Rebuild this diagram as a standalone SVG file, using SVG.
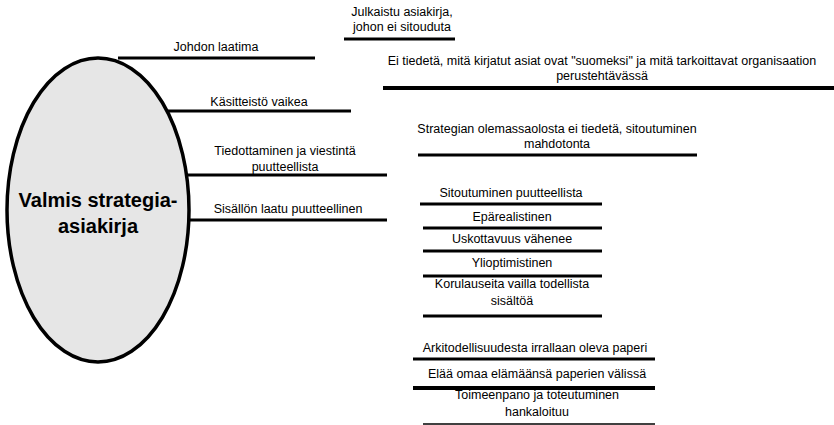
<svg xmlns="http://www.w3.org/2000/svg" width="834" height="425" viewBox="0 0 834 425">
  <style>
    .bg { fill: #ffffff; }
    .hub { fill: #e6e6e6; stroke: #000000; stroke-width: 3.5; }
    .hub-label { font-family: "Liberation Sans", Arial, sans-serif; font-size: 20px; font-weight: bold; fill: #000000; text-anchor: middle; }
    .label { font-family: "Liberation Sans", Arial, sans-serif; font-size: 12.5px; fill: #000000; text-anchor: middle; }
    .rule { stroke: #000000; stroke-width: 3; fill: none; }
    .rule-heavy { stroke: #000000; stroke-width: 4; fill: none; }
    .rule-thin { stroke: #000000; stroke-width: 1.5; fill: none; }
  </style>

  <rect class="bg" x="0" y="0" width="834" height="425"/>

  <!-- connectors: underline rules that branch off the central ellipse -->
  <g id="connectors">
    <line class="rule" x1="118" y1="58" x2="315" y2="58"/>
    <line class="rule" x1="168" y1="111" x2="351" y2="111"/>
    <line class="rule" x1="183" y1="175" x2="387" y2="175"/>
    <line class="rule" x1="189" y1="220" x2="387" y2="220"/>
  </g>

  <!-- central node -->
  <g id="hub">
    <ellipse class="hub" cx="98" cy="210" rx="91" ry="152"/>
    <text class="hub-label" x="98" y="207">Valmis strategia-</text>
    <text class="hub-label" x="98" y="233">asiakirja</text>
  </g>

  <!-- left branch labels -->
  <g id="johdon-laatima">
    <text class="label" x="216" y="51">Johdon laatima</text>
  </g>
  <g id="kasitteisto-vaikea">
    <text class="label" x="259" y="106">Käsitteistö vaikea</text>
  </g>
  <g id="tiedottaminen">
    <text class="label" x="285" y="155">Tiedottaminen ja viestintä</text>
    <text class="label" x="285" y="171">puutteellista</text>
  </g>
  <g id="sisallon-laatu">
    <text class="label" x="288" y="213">Sisällön laatu puutteellinen</text>
  </g>

  <!-- consequences, right side -->
  <g id="julkaistu">
    <text class="label" x="402" y="16">Julkaistu asiakirja,</text>
    <text class="label" x="402" y="31">johon ei sitouduta</text>
    <line class="rule" x1="344" y1="39" x2="455" y2="39"/>
  </g>
  <g id="ei-tiedeta">
    <text class="label" x="602" y="65">Ei tiedetä, mitä kirjatut asiat ovat "suomeksi" ja mitä tarkoittavat organisaation</text>
    <text class="label" x="602" y="80">perustehtävässä</text>
    <line class="rule-heavy" x1="383" y1="88" x2="834" y2="88"/>
  </g>
  <g id="strategian-olemassaolo">
    <text class="label" x="557" y="133">Strategian olemassaolosta ei tiedetä, sitoutuminen</text>
    <text class="label" x="557" y="148">mahdotonta</text>
    <line class="rule" x1="418" y1="155" x2="697" y2="155"/>
  </g>
  <g id="sitoutuminen">
    <text class="label" x="511" y="197">Sitoutuminen puutteellista</text>
    <line class="rule" x1="420" y1="204" x2="602" y2="204"/>
  </g>
  <g id="eparealistinen">
    <text class="label" x="512" y="221">Epärealistinen</text>
    <line class="rule" x1="423" y1="228" x2="602" y2="228"/>
  </g>
  <g id="uskottavuus">
    <text class="label" x="512" y="243">Uskottavuus vähenee</text>
    <line class="rule" x1="423" y1="251" x2="602" y2="251"/>
  </g>
  <g id="ylioptimistinen">
    <text class="label" x="512" y="267">Ylioptimistinen</text>
    <line class="rule" x1="423" y1="276" x2="602" y2="276"/>
  </g>
  <g id="korulauseita">
    <text class="label" x="512" y="288">Korulauseita vailla todellista</text>
    <text class="label" x="512" y="305">sisältöä</text>
    <line class="rule" x1="423" y1="316" x2="602" y2="316"/>
  </g>
  <g id="arkitodellisuus">
    <text class="label" x="535" y="352">Arkitodellisuudesta irrallaan oleva paperi</text>
    <line class="rule" x1="413" y1="359" x2="655" y2="359"/>
  </g>
  <g id="elaa-omaa">
    <text class="label" x="537" y="378">Elää omaa elämäänsä paperien välissä</text>
  </g>
  <g id="toimeenpano">
    <text class="label" x="537" y="399">Toimeenpano ja toteutuminen</text>
    <text class="label" x="537" y="416">hankaloituu</text>
    <line class="rule-thin" x1="423" y1="424" x2="655" y2="424"/>
  </g>
  <!-- heavy rule drawn over the top of the "Toimeenpano" label -->
  <line class="rule-heavy" x1="413" y1="388" x2="655" y2="388"/>
</svg>
